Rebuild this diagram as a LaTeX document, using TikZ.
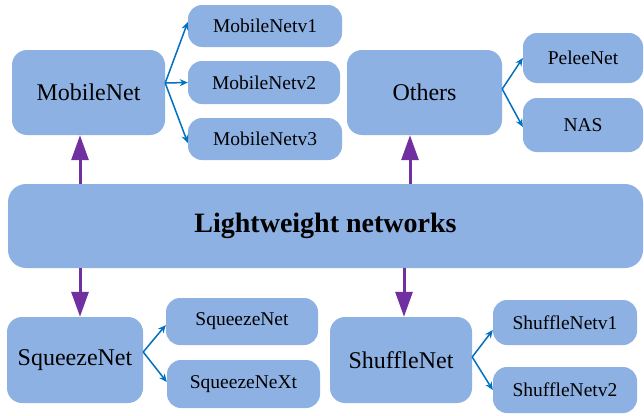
\documentclass[tikz,border=0pt]{standalone}
\usepackage{fontspec}
\setmainfont{Liberation Serif}
\usetikzlibrary{arrows.meta,calc}
\definecolor{boxblue}{HTML}{8EB1E3}
\definecolor{arrowblue}{HTML}{0070C0}
\definecolor{arrowpurple}{HTML}{7030A0}
\begin{document}
\begin{tikzpicture}[x=1pt,y=-1pt,
  box/.style={fill=boxblue, rounded corners=15pt, inner sep=0pt, align=center},
  bigbox/.style={box, font=\fontsize{24}{28}\selectfont},
  subbox/.style={box, rounded corners=14pt, font=\fontsize{19.5}{23}\selectfont},
  barrow/.style={draw=arrowblue, line width=1.5pt, -{Stealth[length=8pt,width=7pt]}},
  parrow/.style={draw=arrowpurple, line width=3pt, -{Triangle[length=25pt,width=17pt]}}]
\useasboundingbox (0,0) rectangle (644,415);
\fill[white] (0,0) rectangle (644,415);
% main box
\node[box, rounded corners=18pt, minimum width=635pt, minimum height=84pt,
      font=\fontsize{28}{32}\selectfont\bfseries] (main) at (325.5,226) {Lightweight networks};
% group boxes
\node[bigbox, minimum width=153pt, minimum height=85pt] (mob) at (88.5,92.5) {MobileNet};
\node[bigbox, minimum width=155pt, minimum height=85pt] (oth) at (424.5,92.5) {Others};
\node[bigbox, minimum width=136pt, minimum height=86pt] (sq) at (75,360) {SqueezeNet};
\node[bigbox, minimum width=142pt, minimum height=86pt] (sh) at (401,360) {ShuffleNet};
% sub boxes
\node[subbox, minimum width=154pt, minimum height=42pt] (m1) at (265,26) {MobileNetv1};
\node[subbox, minimum width=152pt, minimum height=43pt] (m2) at (264,82.5) {MobileNetv2};
\node[subbox, minimum width=154pt, minimum height=42pt] (m3) at (265,139) {MobileNetv3};
\node[subbox, minimum width=120pt, minimum height=50pt] (pel) at (583,58) {PeleeNet};
\node[subbox, minimum width=120pt, minimum height=54pt] (nas) at (583,125) {NAS};
\node[subbox, minimum width=152pt, minimum height=47pt] (s1) at (242,321.5) {SqueezeNet};
\node[subbox, minimum width=153pt, minimum height=48pt] (s2) at (243.5,384) {SqueezeNeXt};
\node[subbox, minimum width=144pt, minimum height=45pt] (h1) at (565,322.5) {ShuffleNetv1};
\node[subbox, minimum width=144pt, minimum height=46pt] (h2) at (565,390) {ShuffleNetv2};
% fork points
\coordinate (mobf) at ([yshift=9.5pt]mob.east);
\coordinate (othf) at ([yshift=3.5pt]oth.east);
\coordinate (sqf) at ([yshift=8pt]sq.east);
\coordinate (shf) at ([yshift=3pt]sh.east);
% blue connectors
\draw[barrow] (mobf) -- ([yshift=4pt]m1.west);
\draw[barrow] (mobf) -- (m2.west);
\draw[barrow] (mobf) -- ([yshift=-4pt]m3.west);
\draw[barrow] (othf) -- (pel.west);
\draw[barrow] (othf) -- ([yshift=-2pt]nas.west);
\draw[barrow] (sqf) -- ([yshift=-3.5pt]s1.west);
\draw[barrow] (sqf) -- ([yshift=2pt]s2.west);
\draw[barrow] (shf) -- ([yshift=-7.5pt]h1.west);
\draw[barrow] (shf) -- (h2.west);
% purple connectors
\coordinate (pa) at (80,184);
\coordinate (pb) at (410,184);
\coordinate (pc) at (80,268);
\coordinate (pd) at (404,268);
\draw[parrow] (pa) -- (pa |- mob.south);
\draw[parrow] (pb) -- (pb |- oth.south);
\draw[parrow] (pc) -- (pc |- sq.north);
\draw[parrow] (pd) -- (pd |- sh.north);
\end{tikzpicture}
\end{document}
